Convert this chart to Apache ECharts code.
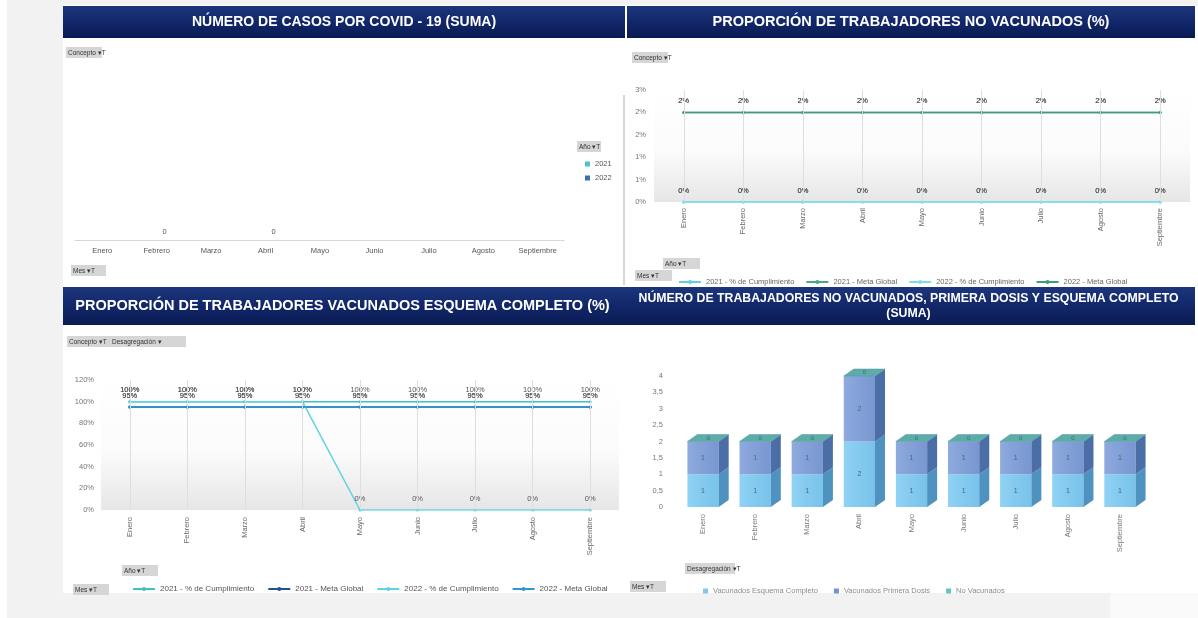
<!DOCTYPE html>
<html>
<head>
<meta charset="utf-8">
<script src="https://cdn.jsdelivr.net/npm/echarts@6/dist/echarts.min.js"></script>
<style>
  body { margin: 0; background: #fff; }
  #fondo { position: absolute; left: 7px; top: 0; width: 1191px; height: 618px; background: #f2f2f2; }
  #fondo2 { position: absolute; left: 1110px; top: 593px; width: 88px; height: 25px; background: #fafafa; }
  #tablero { position: absolute; left: 63px; top: 5px; width: 1135px; height: 588px; background: #fff; }
  .p { position: absolute; }
</style>
</head>
<body>
<div id="fondo"></div>
<div id="fondo2"></div>
<div id="tablero"></div>
<div class="p" id="p1" style="left:63px;top:6px;width:562px;height:280px"></div>
<div class="p" id="p2" style="left:627px;top:6px;width:568px;height:280px"></div>
<div class="p" id="p3" style="left:63px;top:286px;width:559px;height:310px"></div>
<div class="p" id="p4" style="left:622px;top:286px;width:573px;height:310px"></div>
<script>
var meses = ['Enero', 'Febrero', 'Marzo', 'Abril', 'Mayo', 'Junio', 'Julio', 'Agosto', 'Septiembre'];

// casos covid
var casos2021 = [null, null, null, null, null, null, null, null, null];
var casos2022 = [null, 0, null, 0, null, null, null, null, null];

// no vacunados (%)
var noVac2021Cumpl = [0, 0, 0, 0, 0, 0, 0, 0, 0];
var noVac2021Meta = [2, 2, 2, 2, 2, 2, 2, 2, 2];
var noVac2022Cumpl = [0, 0, 0, 0, 0, 0, 0, 0, 0];
var noVac2022Meta = [2, 2, 2, 2, 2, 2, 2, 2, 2];

// vacunados esquema completo (%)
var esq2021Cumpl = [100, 100, 100, 100, 100, 100, 100, 100, 100];
var esq2021Meta = [95, 95, 95, 95, 95, 95, 95, 95, 95];
var esq2022Cumpl = [100, 100, 100, 100, 0, 0, 0, 0, 0];
var esq2022Meta = [95, 95, 95, 95, 95, 95, 95, 95, 95];

// desagregacion (suma)
var vacEsquema = [1, 1, 1, 2, 1, 1, 1, 1, 1];
var vacPrimera = [1, 1, 1, 2, 1, 1, 1, 1, 1];
var noVacunados = [0, 0, 0, 0, 0, 0, 0, 0, 0];

var FUENTE = 'Liberation Sans';

function barraTitulo(w, y, h, lineas, size) {
  var els = [{
    type: 'rect', shape: { x: 0, y: y, width: w, height: h },
    style: { fill: { type: 'linear', x: 0, y: 0, x2: 0, y2: 1, colorStops: [
      { offset: 0, color: '#1c367b' }, { offset: 0.5, color: '#12276a' }, { offset: 1, color: '#0a1b52' }] } }
  }];
  var alto = size + 2;
  var y0 = y + h / 2 - (lineas.length - 1) * alto / 2;
  lineas.forEach(function (t, i) {
    els.push({
      type: 'text',
      style: { text: t, x: w / 2, y: y0 + i * alto, align: 'center', verticalAlign: 'middle',
        fill: '#fff', font: 'bold ' + size + 'px ' + FUENTE }
    });
  });
  return els;
}

function boton(x, y, w, h, txt) {
  return {
    type: 'group', children: [
      { type: 'rect', shape: { x: x, y: y, width: w, height: h }, style: { fill: '#d6d6d6' } },
      { type: 'text', style: { text: txt, x: x + 2, y: y + h / 2 + 0.5, verticalAlign: 'middle',
        fill: '#333', font: '6.5px ' + FUENTE } }
    ]
  };
}

function fondoGrid() {
  return { type: 'linear', x: 0, y: 0, x2: 0, y2: 1, colorStops: [
    { offset: 0, color: '#ffffff' }, { offset: 0.55, color: '#fbfbfb' }, { offset: 1, color: '#e6e6e6' }] };
}

function lineasVert() {
  return {
    silent: true, symbol: 'none', label: { show: false },
    lineStyle: { color: '#dedede', type: 'solid', width: 1 },
    data: meses.map(function (m) { return { xAxis: m }; })
  };
}

function serieLinea(nombre, datos, color, fmt, conLineas) {
  var s = {
    name: nombre, type: 'line', data: datos, symbol: 'circle', symbolSize: 3,
    itemStyle: { color: color }, lineStyle: { color: color, width: 1.5 },
    label: { show: true, position: 'top', distance: 6, fontSize: 7.5, color: '#555', formatter: fmt }
  };
  if (conLineas) s.markLine = lineasVert();
  return s;
}

// ---------- panel 1 ----------
var c1 = echarts.init(document.getElementById('p1'));
c1.setOption({
  animation: false,
  textStyle: { fontFamily: FUENTE },
  graphic: barraTitulo(562, 0, 32, ['NÚMERO DE CASOS POR COVID - 19 (SUMA)'], 14).concat([
    boton(3, 41, 36, 11, 'Concepto ▾T'),
    boton(514, 135, 24, 11, 'Año ▾T'),
    boton(8, 259, 35, 11, 'Mes ▾T'),
    { type: 'line', shape: { x1: 561, y1: 89, x2: 561, y2: 279 }, style: { stroke: '#c8c8c8', lineWidth: 1.5 } }
  ]),
  grid: { left: 12, top: 54, width: 490, height: 180 },
  xAxis: {
    type: 'category', data: meses,
    axisLine: { lineStyle: { color: '#cfcfcf', type: 'dotted' } },
    axisTick: { show: false },
    axisLabel: { fontSize: 7.5, color: '#555', margin: 7 }
  },
  yAxis: { type: 'value', min: 0, max: 10, show: false },
  legend: {
    orient: 'vertical', left: 517, top: 149, itemWidth: 5, itemHeight: 5, itemGap: 6, icon: 'rect',
    textStyle: { fontSize: 7.5, color: '#555' }, data: ['2021', '2022']
  },
  series: [
    { name: '2021', type: 'bar', data: casos2021, barWidth: 16, barGap: '0%', itemStyle: { color: '#4bc3d2' },
      label: { show: true, position: 'top', distance: 4, fontSize: 7.5, color: '#555' } },
    { name: '2022', type: 'bar', data: casos2022, barWidth: 16, barGap: '0%', itemStyle: { color: '#3d6fae' },
      label: { show: true, position: 'top', distance: 4, fontSize: 7.5, color: '#555' } }
  ]
});

// ---------- panel 2 ----------
var fmtRed = function (p) { return Math.round(p.value) + '%'; };
var c2 = echarts.init(document.getElementById('p2'));
c2.setOption({
  animation: false,
  textStyle: { fontFamily: FUENTE },
  graphic: barraTitulo(568, 0, 32, ['PROPORCIÓN DE TRABAJADORES NO VACUNADOS (%)'], 14.5).concat([
    boton(5, 46, 36, 11, 'Concepto ▾T'),
    boton(36, 252, 37, 11, 'Año ▾T'),
    boton(8, 264, 37, 11, 'Mes ▾T')
  ]),
  grid: { left: 27, top: 84, width: 536, height: 112, show: true, borderWidth: 0, backgroundColor: fondoGrid() },
  xAxis: {
    type: 'category', data: meses,
    axisLine: { show: false }, axisTick: { show: false },
    axisLabel: { rotate: 90, fontSize: 7.5, color: '#666', margin: 6 }
  },
  yAxis: {
    type: 'value', min: 0, max: 2.5, interval: 0.5,
    splitLine: { show: false }, axisLine: { show: false },
    axisLabel: { fontSize: 7.5, color: '#777', margin: 8, formatter: function (v) { return Math.round(v) + '%'; } }
  },
  legend: {
    left: 46, top: 267, itemWidth: 22, itemHeight: 5, itemGap: 11,
    textStyle: { fontSize: 7.5, color: '#666' }
  },
  series: [
    serieLinea('2021 - % de Cumplimiento', noVac2021Cumpl, '#62d0dc', fmtRed, true),
    serieLinea('2021 - Meta Global', noVac2021Meta, '#4aa68c', fmtRed),
    serieLinea('2022 - % de Cumplimiento', noVac2022Cumpl, '#80dde6', fmtRed),
    serieLinea('2022 - Meta Global', noVac2022Meta, '#3f9a80', fmtRed)
  ]
});

// ---------- panel 3 ----------
var fmtPct = function (p) { return p.value + '%'; };
var c3 = echarts.init(document.getElementById('p3'));
c3.setOption({
  animation: false,
  textStyle: { fontFamily: FUENTE },
  graphic: barraTitulo(559, 1, 38, ['PROPORCIÓN DE TRABAJADORES VACUNADOS ESQUEMA COMPLETO (%)'], 14.5).concat([
    boton(4, 50, 119, 11, 'Concepto ▾T   Desagregación ▾'),
    boton(59, 279, 36, 11, 'Año ▾T'),
    boton(10, 298, 36, 11, 'Mes ▾T')
  ]),
  grid: { left: 38, top: 94, width: 518, height: 130, show: true, borderWidth: 0, backgroundColor: fondoGrid() },
  xAxis: {
    type: 'category', data: meses,
    axisLine: { show: false }, axisTick: { show: false },
    axisLabel: { rotate: 90, fontSize: 7.5, color: '#666', margin: 7 }
  },
  yAxis: {
    type: 'value', min: 0, max: 120, interval: 20,
    splitLine: { show: false }, axisLine: { show: false },
    axisLabel: { fontSize: 7.5, color: '#777', margin: 7, formatter: '{value}%' }
  },
  legend: {
    left: 64, top: 294, itemWidth: 22, itemHeight: 5, itemGap: 13,
    textStyle: { fontSize: 8, color: '#555' }
  },
  series: [
    serieLinea('2021 - % de Cumplimiento', esq2021Cumpl, '#3fc0cc', fmtPct, true),
    serieLinea('2021 - Meta Global', esq2021Meta, '#24528f', fmtPct),
    serieLinea('2022 - % de Cumplimiento', esq2022Cumpl, '#5fd3e0', fmtPct),
    serieLinea('2022 - Meta Global', esq2022Meta, '#2f96d2', fmtPct)
  ]
});

// ---------- panel 4 ----------
var desagregacion = [vacEsquema, vacPrimera, noVacunados];
var nombres4 = ['Vacunados Esquema Completo', 'Vacunados Primera Dosis', 'No Vacunados'];
var colores3d = [
  { frente: { type: 'linear', x: 0, y: 0, x2: 1, y2: 0, colorStops: [{ offset: 0, color: '#8fd2f4' }, { offset: 1, color: '#78c2ea' }] },
    lado: '#4f92bf', tapa: '#7cc6ea', leyenda: '#7ec8ee' },
  { frente: { type: 'linear', x: 0, y: 0, x2: 1, y2: 0, colorStops: [{ offset: 0, color: '#8eaade' }, { offset: 1, color: '#7896d0' }] },
    lado: '#4c6ea6', tapa: '#7e9bd4', leyenda: '#7393d0' },
  { frente: '#62b6b6', lado: '#3f8a8c', tapa: '#5eacaa', leyenda: '#62c4c4' }
];

function cubo(k) {
  return function (params, api) {
    var i = api.value(0);
    var base = 0;
    for (var j = 0; j < k; j++) base += desagregacion[j][i];
    var v = desagregacion[k][i];
    var a = api.coord([i, base]);
    var b = api.coord([i, base + v]);
    var w = api.size([1, 0])[0] * 0.6;
    var dx = 10, dy = 7;
    var x0 = a[0] - w / 2, x1 = a[0] + w / 2, yb = a[1], yt = b[1];
    var c = colores3d[k];
    var hijos = [];
    if (v > 0) {
      hijos.push({ type: 'rect', shape: { x: x0, y: yt, width: w, height: yb - yt }, style: { fill: c.frente } });
      hijos.push({ type: 'polygon', shape: { points: [[x1, yt], [x1 + dx, yt - dy], [x1 + dx, yb - dy], [x1, yb]] },
        style: { fill: c.lado } });
      hijos.push({ type: 'text', style: { text: String(v), x: a[0], y: (yt + yb) / 2, align: 'center',
        verticalAlign: 'middle', fill: '#4d6480', font: '7px ' + FUENTE } });
    }
    if (k === desagregacion.length - 1) {
      hijos.push({ type: 'polygon', shape: { points: [[x0, yt], [x0 + dx, yt - dy], [x1 + dx, yt - dy], [x1, yt]] },
        style: { fill: c.tapa, stroke: '#4e9a98', lineWidth: 0.5 } });
      hijos.push({ type: 'text', style: { text: String(v), x: a[0] + dx / 2, y: yt - dy / 2, align: 'center',
        verticalAlign: 'middle', fill: '#3d6b70', font: '6px ' + FUENTE } });
    }
    return { type: 'group', children: hijos };
  };
}

var c4 = echarts.init(document.getElementById('p4'));
c4.setOption({
  animation: false,
  textStyle: { fontFamily: FUENTE },
  graphic: barraTitulo(573, 1, 38, ['NÚMERO DE TRABAJADORES NO VACUNADOS, PRIMERA DOSIS Y ESQUEMA COMPLETO', '(SUMA)'], 12.3).concat([
    boton(63, 277, 50, 11, 'Desagregación ▾T'),
    boton(8, 295, 36, 11, 'Mes ▾T')
  ]),
  grid: { left: 55, top: 90, width: 469, height: 131 },
  xAxis: {
    type: 'category', data: meses,
    axisLine: { show: false }, axisTick: { show: false },
    axisLabel: { rotate: 90, fontSize: 7.5, color: '#777', margin: 7 }
  },
  yAxis: {
    type: 'value', min: 0, max: 4, interval: 0.5,
    splitLine: { show: false }, axisLine: { show: false },
    axisLabel: { fontSize: 7.5, color: '#777', margin: 14, formatter: function (v) { return String(v).replace('.', ','); } }
  },
  legend: {
    left: 76, top: 296, itemWidth: 5, itemHeight: 5, itemGap: 16, icon: 'rect',
    textStyle: { fontSize: 7.5, color: '#8a8a8a' }, data: nombres4
  },
  series: nombres4.map(function (n, k) {
    return {
      name: n, type: 'custom', renderItem: cubo(k),
      itemStyle: { color: colores3d[k].leyenda },
      encode: { x: 0, y: 1 },
      data: meses.map(function (m, i) { return [i, desagregacion[k][i]]; })
    };
  })
});
</script>
</body>
</html>
